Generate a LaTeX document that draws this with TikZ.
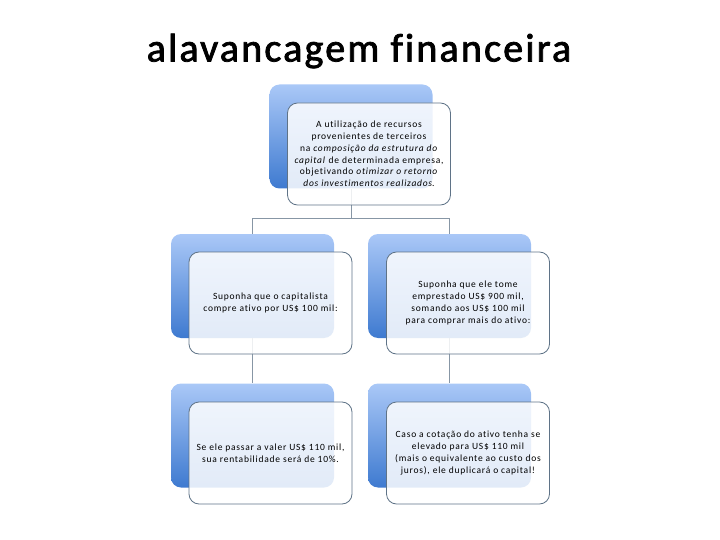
\documentclass[tikz,border=0pt]{standalone}
\usepackage{fontspec}
\setmainfont{Carlito}
\newfontfamily\titlefont[LetterSpace=5.5,FakeBold=2,Ligatures=NoCommon]{Carlito}
\newfontfamily\boxfont[LetterSpace=8,Ligatures=NoCommon]{Carlito}
\begin{document}
\begin{tikzpicture}[x=1pt,y=-1pt,
  backbox/.style={rounded corners=10pt, minimum width=163pt, minimum height=104pt, inner sep=0pt,
    top color={rgb,255:red,170;green,200;blue,247}, bottom color={rgb,255:red,62;green,122;blue,208}, draw=none},
  frontbox/.style={rounded corners=10pt, minimum width=163pt, minimum height=102pt, inner sep=2pt,
    draw={rgb,255:red,95;green,115;blue,135}, line width=0.8pt, fill=white, fill opacity=0.85, text opacity=1,
    align=center, font=\boxfont\fontsize{9.5}{11.8}\selectfont},
  conn/.style={draw={rgb,255:red,135;green,150;blue,165}, line width=0.8pt}]
\useasboundingbox (0,0) rectangle (720,540);
\node (title) at (359,51) {\titlefont\fontsize{40}{44}\selectfont alavancagem financeira};
% back boxes
\node[backbox] (b1) at (351,136.5) {};
\node[backbox] (b2) at (252.5,286) {};
\node[backbox] (b3) at (449.5,286) {};
\node[backbox] (b4) at (252.5,435.5) {};
\node[backbox] (b5) at (449.5,435.5) {};
% connectors
\coordinate (j) at (351,218);
\draw[conn] (b1.south) -- (j);
\draw[conn] (j) -| (b2.north);
\draw[conn] (j) -| (b3.north);
\draw[conn] (b2.south) -- (b4.north);
\draw[conn] (b3.south) -- (b5.north);
% front boxes
\node[frontbox] (f1) at (369,154) {A utilização de recursos\\provenientes de terceiros\\na \textit{composição da estrutura do}\\\textit{capital} de determinada empresa,\\objetivando \textit{otimizar o retorno}\\\textit{dos investimentos realizados}.};
\node[frontbox] (f2) at (270.5,303) {Suponha que o capitalista\\compre ativo por US\$ 100 mil:};
\node[frontbox] (f3) at (468,303) {Suponha que ele tome\\emprestado US\$ 900 mil,\\somando aos US\$ 100 mil\\para comprar mais do ativo:};
\node[frontbox] (f4) at (270.5,453) {Se ele passar a valer US\$ 110 mil,\\sua rentabilidade será de 10\%.};
\node[frontbox] (f5) at (468,453) {Caso a cotação do ativo tenha se\\elevado para US\$ 110 mil\\(mais o equivalente ao custo dos\\juros), ele duplicará o capital!};
\end{tikzpicture}
\end{document}
